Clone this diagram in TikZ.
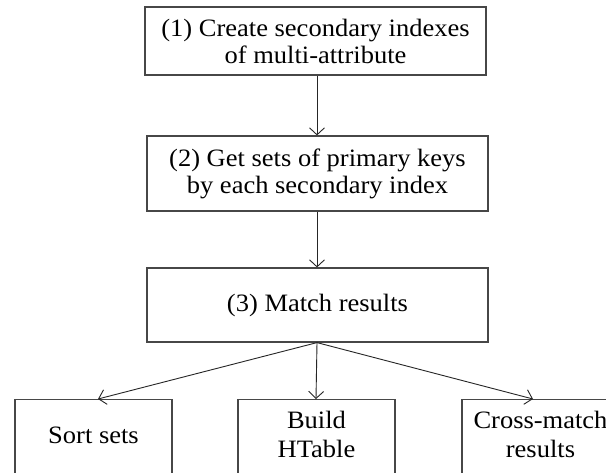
\documentclass[tikz,border=0pt]{standalone}
\usepackage{fontspec}
\setmainfont{Liberation Serif}[FakeStretch=1.06]
\usetikzlibrary{arrows.meta}
\begin{document}
\begin{tikzpicture}[x=1pt,y=-1pt,
  box/.style={draw=black!72, line width=1.2pt, fill=white, inner sep=0pt,
    minimum width=341pt, align=center, font=\fontsize{25}{27}\selectfont},
  leaf/.style={draw=black!72, line width=1.2pt, fill=white, inner sep=0pt,
    anchor=north, minimum width=157pt, align=center,
    font=\fontsize{25}{29}\selectfont},
  conn/.style={draw=black!85, line width=0.9pt,
    -{Straight Barb[length=7pt,width=15pt,line width=0.9pt]}}]
\useasboundingbox (0,0) rectangle (606,472);
\clip (0,0) rectangle (606,472);
\fill[white] (0,0) rectangle (606,472);

\node[box, minimum height=68pt] (b1) at (315.5,41)
  {(1) Create secondary indexes\\of multi-attribute};
\node[box, minimum height=75pt] (b2) at (317.5,173.5)
  {(2) Get sets of primary keys\\by each secondary index};
\node[box, minimum height=74pt] (b3) at (317.5,305)
  {(3) Match results};

\node[leaf, text height=44pt, text depth=45pt] (sortbox) at (93.5,399) {Sort sets};
\node[leaf, text height=58pt, text depth=31pt] (buildbox) at (316.5,399) {Build\\HTable};
\node[leaf, text height=58pt, text depth=31pt] (crossbox) at (540.5,399) {Cross-match\\results};

\draw[conn] ([xshift=1.5pt]b1.south) -- ([xshift=-0.5pt]b2.north);
\draw[conn] ([xshift=-0.5pt]b2.south) -- ([xshift=-0.5pt]b3.north);
\draw[conn] ([xshift=-0.5pt]b3.south) -- ([xshift=4.5pt]sortbox.north);
\draw[conn] ([xshift=-0.5pt]b3.south) -- ([xshift=-0.5pt]buildbox.north);
\draw[conn] ([xshift=-0.5pt]b3.south) -- ([xshift=-7.5pt]crossbox.north);
\end{tikzpicture}
\end{document}
